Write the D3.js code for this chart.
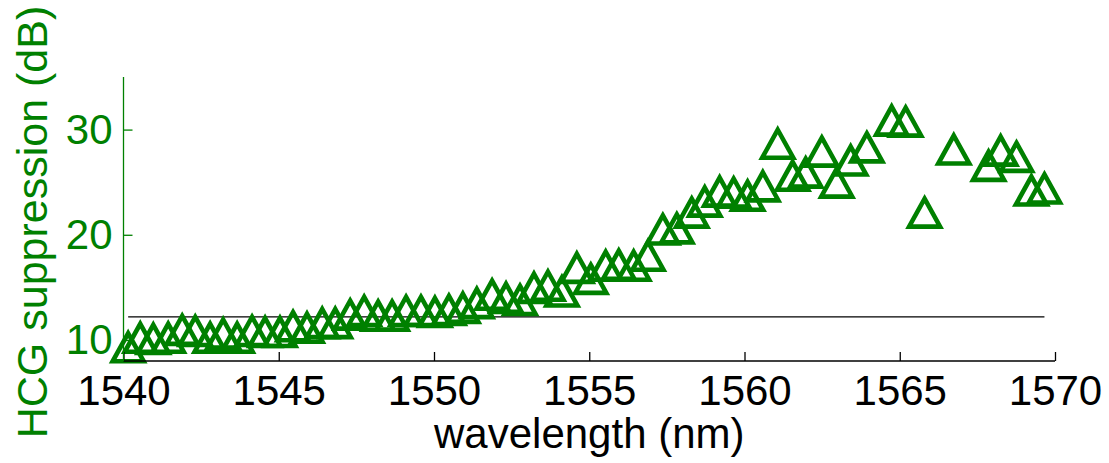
<!DOCTYPE html>
<html>
<head>
<meta charset="utf-8">
<script src="https://cdn.jsdelivr.net/npm/d3@7"></script>
<style>
  html, body { margin: 0; padding: 0; background: #fff; }
  svg { display: block; font-family: "Liberation Sans", Arial, Helvetica, sans-serif; }
</style>
</head>
<body>
<svg id="chart" width="1109" height="463"></svg>
<script>
// ---- data ----
const wavelength = [
  1540.15, 1540.54, 1540.96, 1541.44, 1541.89, 1542.31, 1542.79, 1543.21, 1543.66, 1544.14,
  1544.56, 1545.04, 1545.46, 1545.91, 1546.40, 1546.82, 1547.30, 1547.75, 1548.20, 1548.65,
  1549.10, 1549.58, 1550.03, 1550.48, 1550.93, 1551.38, 1551.87, 1552.32, 1552.77, 1553.22,
  1553.67, 1554.12, 1554.60, 1555.05, 1555.53, 1555.95, 1556.43, 1556.89, 1557.37, 1557.82,
  1558.30, 1558.72, 1559.20, 1559.65, 1560.10, 1560.59, 1561.07, 1561.55, 1561.97, 1562.49,
  1562.97, 1563.42, 1563.94, 1564.74, 1565.19, 1565.80, 1566.74, 1567.86, 1568.25, 1568.76,
  1569.24, 1569.66
];
const suppression = [
  9.4, 10.3, 10.2, 10.3, 11.05, 10.95, 10.3, 10.7, 10.3, 10.95,
  10.85, 10.85, 11.4, 11.25, 11.7, 11.7, 12.5, 12.85, 12.4, 12.4,
  12.85, 12.85, 12.75, 12.95, 13.15, 13.6, 14.4, 14.1, 13.9, 15.05,
  15.25, 14.7, 16.95, 15.9, 17.15, 17.25, 17.15, 18.1, 20.6, 20.7,
  22.2, 23.25, 24.2, 24.1, 23.8, 24.7, 28.75, 25.7, 26.0, 28.0,
  25.05, 27.15, 28.4, 30.95, 30.85, 22.2, 28.2, 26.65, 28.1, 27.5,
  24.3, 24.5
];
const threshold = 12.2;
const xTicks = [1540, 1545, 1550, 1555, 1560, 1565, 1570];
const yTicks = [10, 20, 30];
const xDomain = [1540, 1570];
const yDomain = [8, 35];
const xLabel = "wavelength (nm)";
const yLabel = "HCG suppression (dB)";

// ---- layout ----
const green = "#008000";
const svg = d3.select("#chart");
const mLeft = 123.5, mRight = 1055, mTop = 77, mBottom = 361;

const x = d3.scaleLinear().domain(xDomain).range([mLeft, mRight]);
const y = d3.scaleLinear().domain(yDomain).range([mBottom, mTop]);

// threshold line
svg.append("line")
  .attr("x1", x(wavelength[0])).attr("x2", x(wavelength[wavelength.length - 1]))
  .attr("y1", y(threshold)).attr("y2", y(threshold))
  .attr("stroke", "#000").attr("stroke-width", 1.3);

// markers (hollow triangles)
const tri = "M0,-14L15.5,14L-15.5,14Z";
svg.append("g").selectAll("path").data(wavelength).join("path")
  .attr("d", tri)
  .attr("transform", (d, i) => `translate(${x(d)},${y(suppression[i]) + 1})`)
  .attr("fill", "none")
  .attr("stroke", green)
  .attr("stroke-width", 4.6)
  .attr("stroke-linejoin", "miter");

// x axis
const xAxis = d3.axisBottom(x).tickValues(xTicks).tickFormat(d3.format("d")).tickSize(-9).tickPadding(14);
const gx = svg.append("g").attr("transform", `translate(0,${mBottom})`).call(xAxis);
gx.select(".domain").attr("stroke", "#000").attr("stroke-width", 1.3).attr("d", `M${mLeft},0H${mRight}`);
gx.selectAll(".tick line").attr("stroke", "#000").attr("stroke-width", 1.3);
gx.selectAll(".tick text").attr("fill", "#000").attr("font-size", 42)
  .attr("font-family", "'Liberation Sans', Arial, sans-serif");

// y axis
const yAxis = d3.axisLeft(y).tickValues(yTicks).tickFormat(d3.format("d")).tickSize(-9).tickPadding(11);
const gy = svg.append("g").attr("transform", `translate(${mLeft},0)`).call(yAxis);
gy.select(".domain").attr("stroke", green).attr("stroke-width", 1.3).attr("d", `M0,${mTop}V${mBottom}`);
gy.selectAll(".tick line").attr("stroke", green).attr("stroke-width", 1.3);
gy.selectAll(".tick text").attr("fill", green).attr("font-size", 42)
  .attr("font-family", "'Liberation Sans', Arial, sans-serif");

// axis labels
svg.append("text")
  .attr("x", (mLeft + mRight) / 2).attr("y", 448)
  .attr("text-anchor", "middle")
  .attr("font-size", 42)
  .attr("fill", "#000")
  .text(xLabel);

svg.append("text")
  .attr("transform", `translate(47,222) rotate(-90)`)
  .attr("text-anchor", "middle")
  .attr("font-size", 43)
  .attr("fill", green)
  .text(yLabel);
</script>
</body>
</html>
